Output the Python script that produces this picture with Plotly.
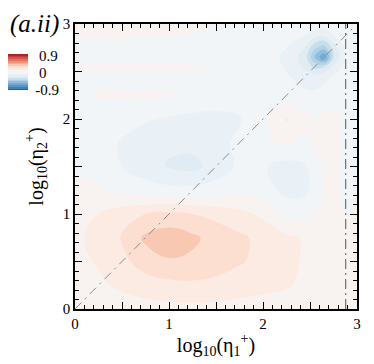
import plotly.graph_objects as go

# grid of log10(eta+) positions (irregular, finer near the top-right blob)
eta1 = [0, 0.25, 0.5, 0.75, 1.0, 1.25, 1.5, 1.75, 2.0, 2.25, 2.45, 2.55, 2.65, 2.75, 2.9, 3.0]
eta2 = [0, 0.25, 0.5, 0.75, 1.0, 1.25, 1.5, 1.75, 2.0, 2.25, 2.45, 2.55, 2.65, 2.75, 2.9, 3.0]

# correlation values, one row per eta2
corr = [
    [0.02, 0.04, 0.05, 0.06, 0.07, 0.07, 0.07, 0.06, 0.05, 0.05, 0.04, 0.04, 0.03, 0.03, 0.01, 0.02],
    [0.05, 0.08, 0.12, 0.15, 0.17, 0.18, 0.17, 0.15, 0.13, 0.11, 0.08, 0.06, 0.05, 0.04, 0.01, 0.03],
    [0.07, 0.11, 0.17, 0.25, 0.29, 0.28, 0.25, 0.21, 0.17, 0.12, 0.09, 0.07, 0.05, 0.04, 0.01, 0.03],
    [0.08, 0.13, 0.21, 0.32, 0.36, 0.32, 0.26, 0.22, 0.17, 0.12, 0.09, 0.07, 0.05, 0.04, 0.01, 0.03],
    [0.07, 0.10, 0.15, 0.20, 0.22, 0.20, 0.17, 0.13, 0.08, -0.03, -0.04, 0.01, 0.02, 0.03, 0.00, 0.02],
    [0.02, 0.01, -0.02, -0.06, -0.07, -0.07, -0.05, -0.03, -0.05, -0.13, -0.12, -0.06, 0.00, 0.02, -0.03, -0.01],
    [-0.01, -0.03, -0.10, -0.15, -0.21, -0.23, -0.16, -0.08, -0.09, -0.14, -0.11, -0.04, 0.02, 0.03, -0.03, -0.02],
    [-0.02, -0.05, -0.11, -0.15, -0.18, -0.17, -0.13, -0.08, -0.03, 0.02, -0.02, 0.03, 0.05, 0.03, -0.03, -0.02],
    [-0.03, -0.04, -0.06, -0.09, -0.11, -0.12, -0.12, -0.11, -0.02, 0.11, 0.03, 0.00, 0.02, 0.02, -0.03, -0.02],
    [-0.03, 0.01, 0.01, 0.01, 0.01, -0.04, -0.06, -0.05, -0.04, -0.06, -0.08, -0.07, -0.05, -0.04, -0.03, -0.02],
    [-0.02, -0.02, -0.03, -0.03, -0.03, -0.03, -0.03, -0.04, -0.05, -0.09, -0.14, -0.17, -0.14, -0.09, -0.04, -0.02],
    [0.01, 0.01, 0.01, 0.01, 0.01, 0.01, 0.00, -0.02, -0.05, -0.11, -0.22, -0.33, -0.30, -0.18, -0.05, -0.02],
    [-0.03, -0.03, -0.03, -0.03, -0.03, -0.03, -0.03, -0.04, -0.05, -0.12, -0.25, -0.50, -0.70, -0.30, -0.06, -0.02],
    [-0.02, -0.02, -0.02, -0.03, -0.03, -0.03, -0.03, -0.04, -0.05, -0.10, -0.20, -0.38, -0.45, -0.25, -0.05, -0.02],
    [0.01, 0.01, 0.01, 0.01, 0.01, 0.00, -0.01, -0.02, -0.03, -0.05, -0.09, -0.13, -0.14, -0.09, -0.03, -0.02],
    [0.01, 0.01, 0.01, 0.01, 0.01, 0.01, 0.00, -0.01, -0.02, -0.03, -0.04, -0.05, -0.05, -0.04, -0.02, -0.02],
]

cbar_ticks = [-0.9, 0, 0.9]
cbar_labels = ["\u00a0-0.9", "\u00a0\u00a00", "\u00a0\u00a00.9"]
axis_ticks = [0, 0.5, 1, 1.5, 2, 2.5, 3]
axis_labels = ["0", "", "1", "", "2", "", "3"]

diag_x = [0, 2.95]
diag_y = [0, 2.95]
vline_x = [2.88, 2.88]
vline_y = [0, 3]

scale = [
    [0.0, "#2166ac"], [0.053, "#3a80bb"], [0.158, "#74aad2"], [0.263, "#b0d1e7"],
    [0.368, "#e0ebf3"], [0.421, "#eaf1f6"], [0.474, "#f2f5f8"], [0.526, "#f8f3f1"],
    [0.579, "#fbebe3"], [0.632, "#fcdfd1"], [0.684, "#f9c8b3"], [0.789, "#ee9276"],
    [0.895, "#d0564a"], [1.0, "#b2202e"],
]

SERIF = "Liberation Serif, Times New Roman, serif"

fig = go.Figure()
fig.add_trace(go.Contour(
    x=eta1, y=eta2, z=corr,
    colorscale=scale,
    contours=dict(start=-0.9, end=0.9, size=0.1, coloring="fill", showlines=False),
    line=dict(width=0, smoothing=1.3),
    colorbar=dict(
        x=-0.241, xanchor="left", y=0.83, yanchor="middle",
        lenmode="pixels", len=36, thickness=21,
        tickvals=cbar_ticks, ticktext=cbar_labels,
        ticks="", outlinewidth=0, xpad=0, ypad=0,
        tickfont=dict(family=SERIF, size=15, color="black"),
    ),
))

fig.add_trace(go.Scatter(x=diag_x, y=diag_y, mode="lines", showlegend=False,
                         line=dict(color="#8a8a8a", width=1, dash="9px,5px,2px,5px")))
fig.add_trace(go.Scatter(x=vline_x, y=vline_y, mode="lines", showlegend=False,
                         line=dict(color="#555555", width=1, dash="10px,4px,2px,4px")))

axis_style = dict(
    range=[0, 3], tickvals=axis_ticks, ticktext=axis_labels,
    ticks="inside", ticklen=7, tickwidth=1.2, tickcolor="black",
    minor=dict(dtick=0.1, ticks="inside", ticklen=4, tickcolor="black", tickwidth=1),
    showline=True, linecolor="black", linewidth=1.5, mirror="ticks",
    showgrid=False, zeroline=False, automargin=False,
    tickfont=dict(family=SERIF, size=15, color="black"),
)

fig.update_xaxes(**axis_style, title=dict(text="log<sub>10</sub>(η<sub>1</sub><sup>+</sup>)",
                                          font=dict(family=SERIF, size=20, color="black"), standoff=7))
fig.update_yaxes(**axis_style, title=dict(text="log<sub>10</sub>(η<sub>2</sub><sup>+</sup>)",
                                          font=dict(family=SERIF, size=20, color="black"), standoff=14))

# page body adds an 8px offset, so the figure is drawn 8px smaller / shifted
fig.update_layout(
    width=366, height=356,
    margin=dict(l=67, r=17, t=16, b=55, autoexpand=False),
    paper_bgcolor="white", plot_bgcolor="white",
    showlegend=False,
    annotations=[dict(text="<i>(a.ii)</i>", x=-0.238, y=1.056, xref="paper", yref="paper",
                      xanchor="left", yanchor="top", showarrow=False,
                      font=dict(family=SERIF, size=25, color="black"))],
)

fig.write_html("out.html")
